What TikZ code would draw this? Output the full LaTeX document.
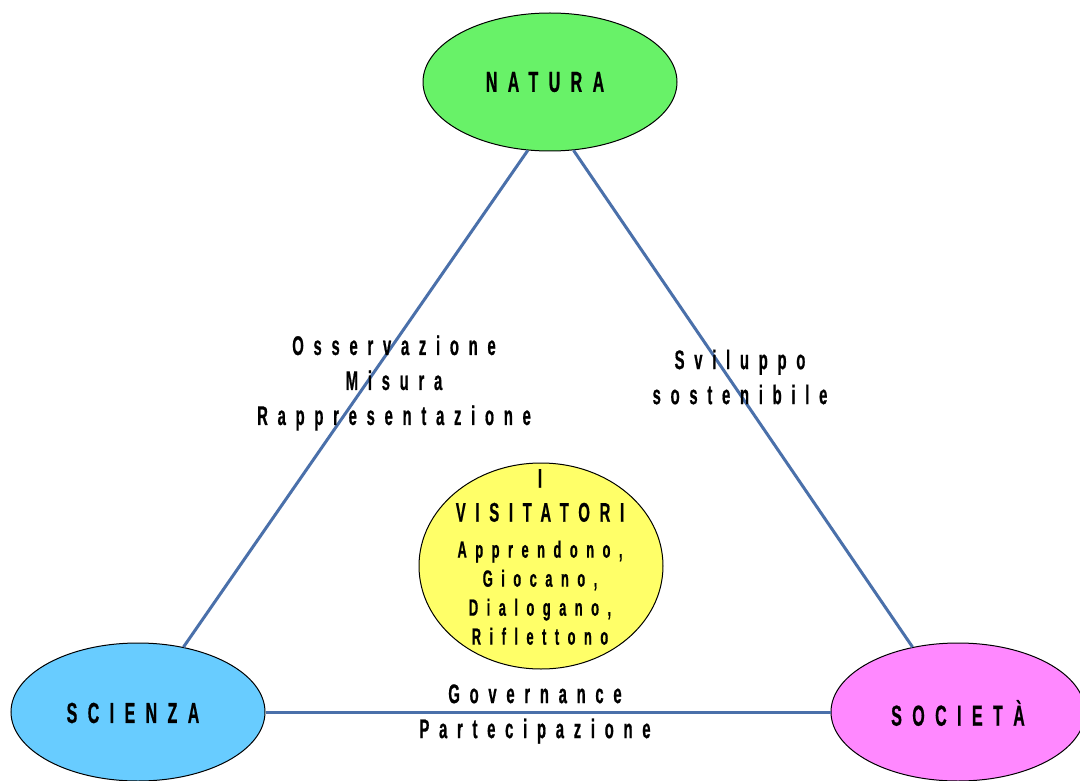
\documentclass[tikz,border=0pt]{standalone}
\usepackage{fontspec}
\setmainfont{Liberation Sans}[FakeStretch=0.55,LetterSpace=36,FakeBold=0.6]
\usetikzlibrary{shapes.geometric}
\definecolor{natgreen}{RGB}{104,242,104}
\definecolor{scblue}{RGB}{104,204,255}
\definecolor{socpink}{RGB}{255,136,255}
\definecolor{visyellow}{RGB}{255,255,104}
\definecolor{linkblue}{RGB}{74,112,170}
\begin{document}
\begin{tikzpicture}[x=1pt,y=-1pt,
  bubble/.style={ellipse, draw=black, line width=1pt, inner sep=0pt,
    minimum width=254pt, minimum height=138pt},
  btext/.style={font=\bfseries\fontsize{29}{30}\selectfont},
  link/.style={draw=linkblue, line width=3pt},
  lbl/.style={align=center, font=\bfseries\fontsize{27}{35}\selectfont},
  vis/.style={align=center, font=\bfseries\fontsize{23.5}{29}\selectfont}]
\useasboundingbox (0,0) rectangle (1080,781);
\fill[white] (0,0) rectangle (1080,781);

\node[bubble, fill=natgreen] (nat) at (550,82) {};
\node[bubble, fill=scblue] (sci) at (138,712) {};
\node[bubble, fill=socpink] (soc) at (958,712) {};
\node[btext] (natt) at (545,82) {NATURA};
\node[btext] (scit) at (133,713) {SCIENZA};
\node[btext] (soct) at (958,713) {SOCIETÀ};
\node[ellipse, draw=black, line width=1pt, fill=visyellow, inner sep=0pt,
  minimum width=244pt, minimum height=206pt] (vis) at (541,566) {};
\node[vis] (vistext) at (540,557) {{\fontsize{27}{29}\selectfont I}\\[5pt]
  {\fontsize{27}{29}\selectfont VISITATORI}\\[7pt]
  Apprendono,\\ Giocano,\\ Dialogano,\\ Riflettono};

\path[link] (nat.252) -- (sci.55);
\path[link] (nat.289) -- (soc.125);
\path[link] (sci.east) -- (soc.west);

\node[lbl] (l1) at (394,383) {Osservazione\\Misura\\Rappresentazione};
\node[lbl] (l2) at (740,377) {Sviluppo\\sostenibile};
\node[lbl] (l3) at (535,714) {Governance\\Partecipazione};
\end{tikzpicture}
\end{document}
